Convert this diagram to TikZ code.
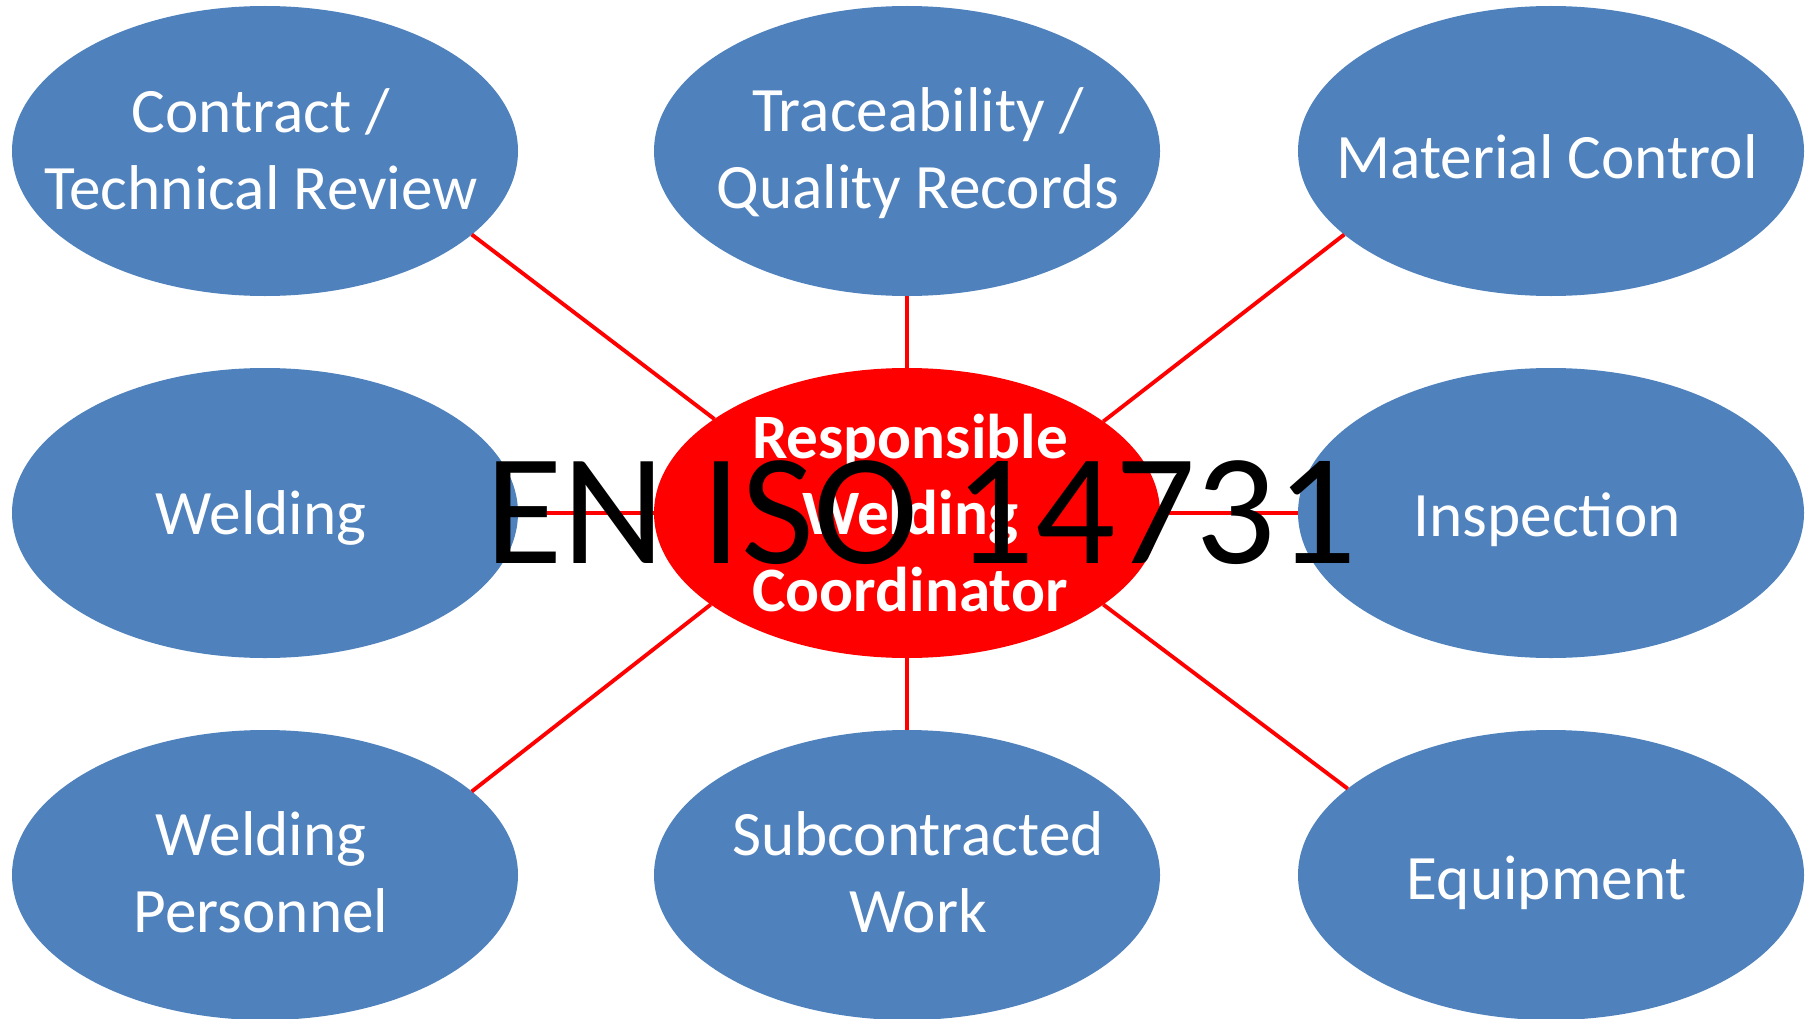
\documentclass[tikz,border=0pt]{standalone}
\usepackage{fontspec}
\setmainfont{Carlito}
\usepackage{xcolor}
\usepackage{tikz}
\usetikzlibrary{shapes.geometric}

\definecolor{topicblue}{HTML}{4F81BD}
\definecolor{rolered}{HTML}{FF0000}

\begin{document}
\begin{tikzpicture}[
        topic/.style={ellipse, fill=topicblue, minimum width=5.06cm, minimum height=2.9cm, inner sep=0pt, outer sep=0pt},
        role/.style={topic, fill=rolered},
        topictext/.style={text=white, align=center, font={\fontsize{18}{21.8}\selectfont}},
        roletext/.style={text=white, align=center, font={\fontsize{18}{21.8}\selectfont\bfseries}},
        line/.style={draw=rolered, line width=1.1pt}
    ]
        \useasboundingbox (0, 0) rectangle (18.10, 10.18);
        % Centre role
        \node (rwc) [role] at (9.07, 5.05) {};
        % Topics around it
        \node (contract) [topic] at (2.65, 8.67) {};
        \node (trace) [topic] at (9.07, 8.67) {};
        \node (material) [topic] at (15.51, 8.67) {};
        \node (welding) [topic] at (2.65, 5.05) {};
        \node (inspection) [topic] at (15.51, 5.05) {};
        \node (personnel) [topic] at (2.65, 1.43) {};
        \node (subcon) [topic] at (9.07, 1.43) {};
        \node (equipment) [topic] at (15.51, 1.43) {};
        % Links to the role
        \draw [line] (contract.-22.6) -- (rwc.154.4);
        \draw [line] (trace) -- (rwc);
        \draw [line] (material.202.8) -- (rwc.25.4);
        \draw [line] (welding) -- (rwc);
        \draw [line] (inspection) -- (rwc);
        \draw [line] (personnel.22.6) -- (rwc.205.3);
        \draw [line] (subcon) -- (rwc);
        \draw [line] (equipment.157.6) -- (rwc.-25.3);
        % Texts
        \node (rwctxt) [roletext] at ([xshift=0.03cm]rwc) {Responsible\\Welding\\Coordinator};
        \node (contracttxt) [topictext] at ([xshift=-0.04cm, yshift=0.02cm]contract) {Contract /\\Technical Review};
        \node (tracetxt) [topictext] at ([xshift=0.11cm, yshift=-0.02cm]trace) {Traceability /\\Quality Records};
        \node (materialtxt) [topictext] at ([xshift=-0.04cm, yshift=-0.06cm]material) {Material Control};
        \node (weldingtxt) [topictext] at ([xshift=-0.04cm, yshift=-0.05cm]welding) {Welding};
        \node (inspectiontxt) [topictext] at ([xshift=-0.04cm, yshift=-0.07cm]inspection) {Inspection};
        \node (personneltxt) [topictext] at ([xshift=-0.04cm, yshift=0.03cm]personnel) {Welding\\Personnel};
        \node (subcontxt) [topictext] at ([xshift=0.11cm, yshift=0.03cm]subcon) {Subcontracted\\Work};
        \node (equipmenttxt) [topictext] at ([xshift=-0.04cm, yshift=-0.08cm]equipment) {Equipment};
        % Standard title over everything
        \node (standard) [anchor=base, inner sep=0pt, font={\fontsize{45.1}{50}\selectfont}] at (9.21, 4.55) {EN ISO 14731};
    \end{tikzpicture}
\end{document}
